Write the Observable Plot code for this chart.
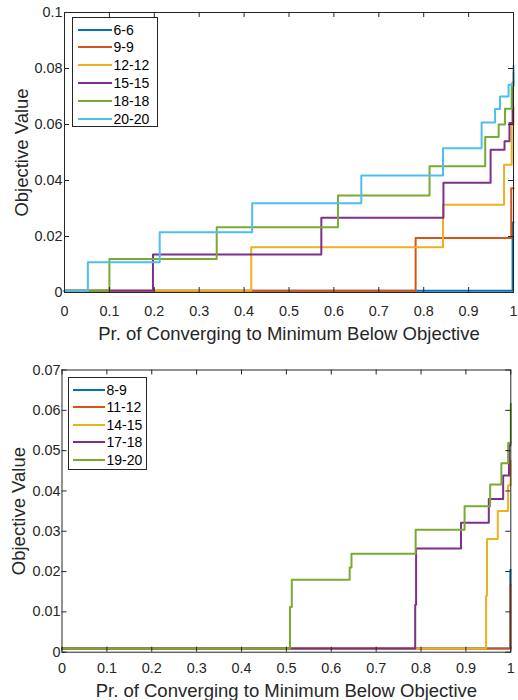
<!DOCTYPE html>
<html><head><meta charset="utf-8">
<script src="https://cdn.jsdelivr.net/npm/d3@7"></script>
<script src="https://cdn.jsdelivr.net/npm/@observablehq/plot@0.6"></script>
<style>
body{margin:0;background:#fff;font-family:"Liberation Sans",Arial,Helvetica,sans-serif;}
#wrap{position:relative;width:518px;height:700px;overflow:hidden;}
.panel{position:absolute;left:0;width:518px;}
.legend{position:absolute;background:#fff;border:1px solid #262626;box-sizing:border-box;font-size:14px;color:#000;}
.legend .row{position:absolute;left:0;display:flex;align-items:center;height:16px;white-space:nowrap;}
.legend .sw{display:inline-block;height:2px;}
</style></head>
<body><div id="wrap"><div id="top" class="panel" style="top:0"></div><div id="bottom" class="panel" style="top:350px"></div></div>
<script>
// ---------- data ----------
const colors = ["#0072BD", "#D95319", "#EDB120", "#7E2F8E", "#77AC30", "#4DBEEE"];
const xTicks = [0, 0.1, 0.2, 0.3, 0.4, 0.5, 0.6, 0.7, 0.8, 0.9, 1];
const topYTicks = [0, 0.02, 0.04, 0.06, 0.08, 0.1];
const bottomYTicks = [0, 0.01, 0.02, 0.03, 0.04, 0.05, 0.06, 0.07];
const xTitle = "Pr. of Converging to Minimum Below Objective";
const yTitle = "Objective Value";

// top panel
const topLabels = ["6-6", "9-9", "12-12", "15-15", "18-18", "20-20"];
const p66 = [0, 0.998, 1];
const v66 = [0.0006, 0.025, 0.025];
const p99 = [0, 0.782, 0.995, 1];
const v99 = [0.0006, 0.0195, 0.0372, 0.0372];
const p1212 = [0, 0.416, 0.843, 0.979, 0.996, 1];
const v1212 = [0.0006, 0.0162, 0.0313, 0.0456, 0.060, 0.0664];
const p1515 = [0, 0.197, 0.572, 0.844, 0.949, 0.980, 0.991, 0.998, 1];
const v1515 = [0.0006, 0.0136, 0.0267, 0.0392, 0.051, 0.054, 0.0605, 0.075, 0.075];
const p1818 = [0, 0.100, 0.339, 0.609, 0.813, 0.937, 0.967, 0.981, 0.996, 1];
const v1818 = [0.0006, 0.012, 0.0233, 0.0346, 0.0451, 0.0555, 0.060, 0.0656, 0.0736, 0.0787];
const p2020 = [0, 0.052, 0.212, 0.418, 0.661, 0.843, 0.929, 0.959, 0.970, 0.989, 1];
const v2020 = [0.0006, 0.0108, 0.0215, 0.0319, 0.0418, 0.0515, 0.0607, 0.0655, 0.070, 0.0742, 0.081];

// bottom panel
const bottomLabels = ["8-9", "11-12", "14-15", "17-18", "19-20"];
const p89 = [0, 0.999, 1];
const v89 = [0.0009, 0.0204, 0.0204];
const p1112 = [0, 0.999, 1];
const v1112 = [0.0009, 0.0168, 0.0168];
const p1415 = [0, 0.945, 0.947, 0.971, 0.994, 0.9995, 1];
const v1415 = [0.0009, 0.014, 0.0281, 0.035, 0.0414, 0.0474, 0.0474];
const p1718 = [0, 0.787, 0.789, 0.889, 0.951, 0.983, 0.996, 0.999, 1];
const v1718 = [0.0009, 0.0118, 0.0257, 0.0321, 0.038, 0.0438, 0.0513, 0.052, 0.052];
const p1920 = [0, 0.508, 0.512, 0.641, 0.645, 0.788, 0.897, 0.954, 0.979, 0.994, 1];
const v1920 = [0.0009, 0.0112, 0.018, 0.021, 0.0244, 0.0304, 0.0362, 0.0416, 0.0469, 0.0519, 0.0616];

const topSeries = [[p66, v66], [p99, v99], [p1212, v1212], [p1515, v1515], [p1818, v1818], [p2020, v2020]];
const bottomSeries = [[p89, v89], [p1112, v1112], [p1415, v1415], [p1718, v1718], [p1920, v1920]];

// ---------- drawing ----------
const AX = "#262626";
const fmt = d => String(+d.toFixed(3));
const font = "'Liberation Sans', Arial, Helvetica, sans-serif";

function panel({series, yDomain, yTicks, height, mt, mb, ml, mr, xPad, yPad, titleDy, yTitleDx}) {
  const T = 5;
  const W = 518;
  const ph = height - mt - mb, pw = W - ml - mr;
  const lines = series.map(([px, pv], i) => Plot.line(px, {x: px, y: pv, curve: "step-after", stroke: colors[i], strokeWidth: 2}));
  return Plot.plot({
    width: W, height,
    marginTop: mt, marginBottom: mb, marginLeft: ml, marginRight: mr,
    style: {fontFamily: font, fontSize: "14.4px", color: AX, background: "transparent", overflow: "visible"},
    x: {domain: [0, 1]},
    y: {domain: yDomain},
    marks: [
      ...lines,
      Plot.frame({stroke: AX, strokeWidth: 1}),
      Plot.tickX(xTicks, {x: d => d, insetTop: ph - T, stroke: AX, strokeWidth: 1}),
      Plot.tickX(xTicks, {x: d => d, insetBottom: ph - T, stroke: AX, strokeWidth: 1}),
      Plot.tickY(yTicks, {y: d => d, insetRight: pw - T, stroke: AX, strokeWidth: 1}),
      Plot.tickY(yTicks, {y: d => d, insetLeft: pw - T, stroke: AX, strokeWidth: 1}),
      Plot.axisX(xTicks, {anchor: "bottom", tickSize: 0, tickPadding: xPad, tickFormat: fmt, label: null, fill: AX}),
      Plot.axisY(yTicks, {anchor: "left", tickSize: 0, tickPadding: yPad, tickFormat: fmt, label: null, fill: AX}),
      Plot.text([xTitle], {text: d => d, frameAnchor: "bottom", dy: titleDy, textAnchor: "middle", lineAnchor: "middle", fontSize: 18.5, fill: AX}),
      Plot.text([yTitle], {text: d => d, frameAnchor: "left", dx: yTitleDx, rotate: -90, textAnchor: "middle", lineAnchor: "middle", fontSize: 18.5, fill: AX})
    ]
  });
}

function legend(container, labels, {left, top, width, height, row0, rowStep, swLeft, swWidth, gap}) {
  const box = document.createElement("div");
  box.className = "legend";
  Object.assign(box.style, {left: left + "px", top: top + "px", width: width + "px", height: height + "px"});
  labels.forEach((lab, i) => {
    const r = document.createElement("div");
    r.className = "row";
    r.style.top = (row0 + i * rowStep - 8) + "px";
    r.style.left = swLeft + "px";
    const sw = document.createElement("span");
    sw.className = "sw";
    sw.style.width = swWidth + "px";
    sw.style.background = colors[i];
    const t = document.createElement("span");
    t.textContent = lab;
    t.style.marginLeft = gap + "px";
    r.appendChild(sw); r.appendChild(t);
    box.appendChild(r);
  });
  container.appendChild(box);
}

const topEl = document.getElementById("top");
topEl.appendChild(panel({series: topSeries, yDomain: [0, 0.1], yTicks: topYTicks, height: 350,
  mt: 12, mb: 58, ml: 64, mr: 5, xPad: 13, yPad: 2, titleDy: 42, yTitleDx: -42}));
legend(topEl, topLabels, {left: 72, top: 17, width: 86, height: 110, row0: 11.6, rowStep: 17.8, swLeft: 4.5, swWidth: 34, gap: 2});

const botEl = document.getElementById("bottom");
botEl.appendChild(panel({series: bottomSeries, yDomain: [0, 0.07], yTicks: bottomYTicks, height: 350,
  mt: 19.5, mb: 48.3, ml: 61.5, mr: 7.7, xPad: 11, yPad: 1.5, titleDy: 39, yTitleDx: -43}));
legend(botEl, bottomLabels, {left: 68, top: 27, width: 79, height: 93, row0: 12, rowStep: 17.4, swLeft: 4, swWidth: 32, gap: 1.5});
</script>
</body></html>
